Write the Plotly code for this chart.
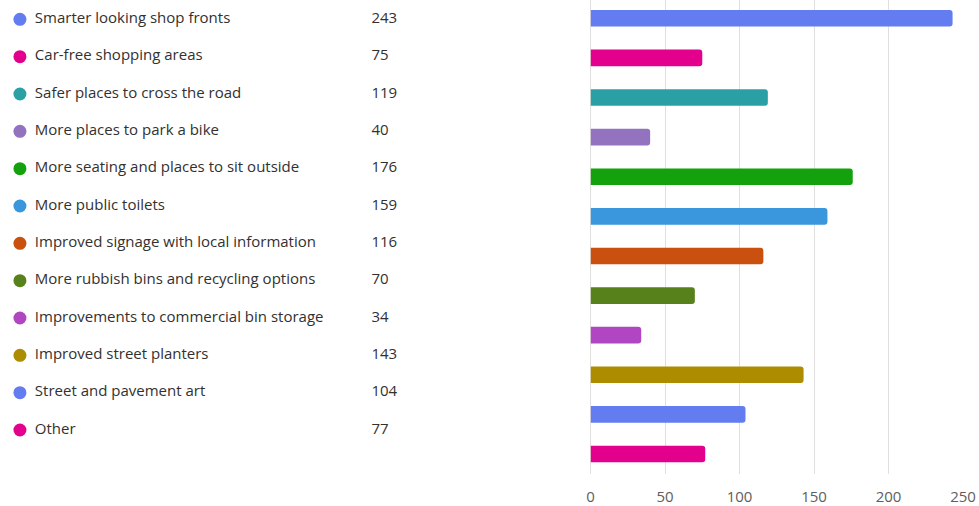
import plotly.graph_objects as go

categories = [
    "Smarter looking shop fronts",
    "Car-free shopping areas",
    "Safer places to cross the road",
    "More places to park a bike",
    "More seating and places to sit outside",
    "More public toilets",
    "Improved signage with local information",
    "More rubbish bins and recycling options",
    "Improvements to commercial bin storage",
    "Improved street planters",
    "Street and pavement art",
    "Other",
]
values = [243, 75, 119, 40, 176, 159, 116, 70, 34, 143, 104, 77]
colors = ["#637CEF", "#E3008C", "#2AA0A4", "#9373C0", "#13A10E", "#3A96DD",
          "#CA5010", "#57811B", "#B146C2", "#AE8C00", "#637CEF", "#E3008C"]
tick_vals = [0, 50, 100, 150, 200, 250]

W, H = 979, 506
ML, MR, MT, MB = 0, 16, 0, 32
PW = W - ML - MR
FONT = "Open Sans"
TEXT = "#323130"

idx = list(range(len(categories)))

fig = go.Figure()

# Bars
fig.add_trace(go.Bar(
    x=values, y=idx, orientation="h",
    marker=dict(color=colors, line=dict(width=0)),
    xaxis="x", yaxis="y", showlegend=False, hoverinfo="x",
))

# Legend list: dots, labels, values
fig.add_trace(go.Scatter(
    x=[16] * len(idx), y=idx, mode="markers",
    marker=dict(color=colors, size=13),
    xaxis="x2", yaxis="y2", showlegend=False, hoverinfo="skip",
))
fig.add_trace(go.Scatter(
    x=[31] * len(idx), y=idx, mode="text", text=categories,
    textposition="middle right", textfont=dict(family=FONT, size=15, color=TEXT),
    xaxis="x2", yaxis="y2", showlegend=False, hoverinfo="skip",
))
fig.add_trace(go.Scatter(
    x=[369] * len(idx), y=idx, mode="text", text=[str(v) for v in values],
    textposition="middle right", textfont=dict(family=FONT, size=15, color=TEXT),
    xaxis="x2", yaxis="y2", showlegend=False, hoverinfo="skip",
))

bar_left = 589
x2_right = 560
fig.update_layout(
    width=W, height=H,
    margin=dict(l=ML, r=MR, t=MT, b=MB),
    paper_bgcolor="white", plot_bgcolor="white",
    font=dict(family=FONT, size=15, color=TEXT),
    bargap=0.58,
    barcornerradius=3,
    xaxis=dict(
        domain=[bar_left / PW, 1], range=[0, 250],
        tickvals=tick_vals, ticktext=[str(t) for t in tick_vals],
        showgrid=True, gridcolor="#e1dfdd", gridwidth=1,
        zeroline=True, zerolinecolor="#e1dfdd", zerolinewidth=1,
        showline=False, ticks="", ticklabelstandoff=12,
        tickfont=dict(family=FONT, size=15, color="#605e5c"),
        fixedrange=True,
    ),
    yaxis=dict(
        range=[11.505, -0.462], showgrid=False, zeroline=False,
        showticklabels=False, ticks="", fixedrange=True,
    ),
    xaxis2=dict(
        domain=[0, x2_right / PW], range=[0, x2_right], visible=False,
        fixedrange=True,
    ),
    yaxis2=dict(
        anchor="x2", range=[12.178, -0.517], visible=False, fixedrange=True,
    ),
)

fig.write_html(
    "out.html",
    config={"displayModeBar": False},
    post_script="document.body.style.margin='0';document.body.style.overflow='hidden';",
)
